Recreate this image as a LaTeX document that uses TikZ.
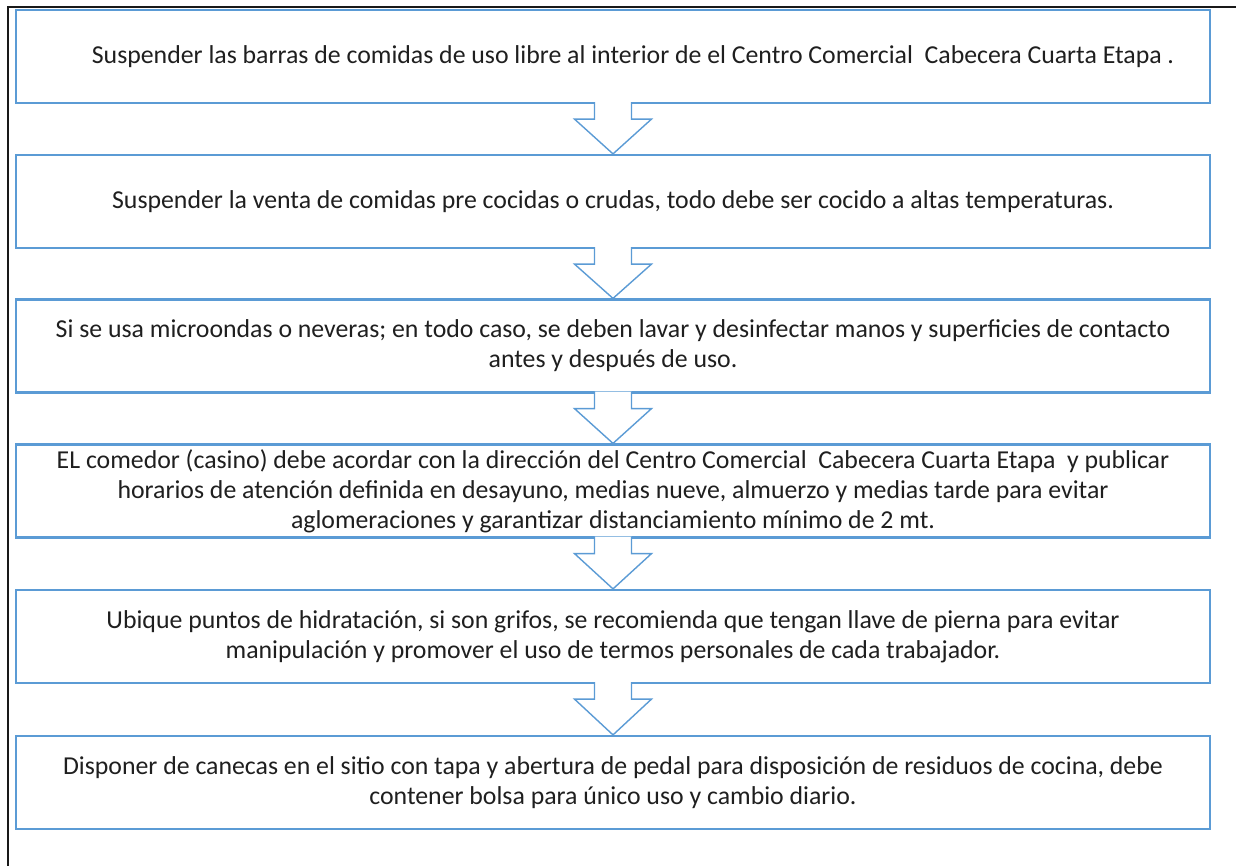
\documentclass[tikz,border=0pt]{standalone}
\usepackage{fontspec}
\setmainfont{Carlito}
\usetikzlibrary{calc,positioning}
\definecolor{color_box}{HTML}{5B9BD5}
\definecolor{color_text}{HTML}{1F1F1F}

\begin{document}
\begin{tikzpicture}[x=0.5pt,y=-0.5pt,
		stepbox/.style={draw=color_box,line width=1.1pt,fill=white,
			minimum width=597pt,minimum height=46.5pt,inner sep=0pt,
			align=center,text=color_text,font=\fontsize{12.9}{15}\selectfont}]
				\useasboundingbox (0, 0) rectangle (1238, 866);
				\fill[white] (-2, -2) rectangle (1240, 868);
				% Frame
				\draw[line width=1.1pt,black!90] (8, 866) -- (8, 7) -- (1236, 7);
				
				% Steps
				\node[stepbox] (b1) at (613, 56.5) {\hspace*{20pt}Suspender las barras de comidas de uso libre al interior de el Centro Comercial\ \ Cabecera Cuarta Etapa .};
				\node[stepbox] (b2) at (613, 201.5) {Suspender la venta de comidas pre cocidas o crudas, todo debe ser cocido a altas temperaturas.};
				\node[stepbox] (b3) at (613, 346) {Si se usa microondas o neveras; en todo caso, se deben lavar y desinfectar manos y superficies de contacto\\ antes y después de uso.};
				\node[stepbox] (b4) at (613, 491) {EL comedor (casino) debe acordar con la dirección del Centro Comercial\ \ Cabecera Cuarta Etapa\ \ y publicar\\ horarios de atención definida en desayuno, medias nueve, almuerzo y medias tarde para evitar\\ aglomeraciones y garantizar distanciamiento mínimo de 2 mt.};
				\node[stepbox] (b5) at (613, 636.5) {Ubique puntos de hidratación, si son grifos, se recomienda que tengan llave de pierna para evitar\\ manipulación y promover el uso de termos personales de cada trabajador.};
				\node[stepbox] (b6) at (613, 782.5) {Disponer de canecas en el sitio con tapa y abertura de pedal para disposición de residuos de cocina, debe\\ contener bolsa para único uso y cambio diario.};
				
				% Arrows
				\foreach \from/\to in {b1/b2, b2/b3, b3/b4, b4/b5, b5/b6}
					\path[draw=color_box,line width=0.7pt,fill=white]
						($(\from.south)+(-18.5,-2)$) -- ++(0,17)
						-- ++(-20,0) -- (\to.north)
						-- ($(\from.south)+(38.5,15)$)
						-- ++(-20,0) -- ++(0,-17)
						;
			\end{tikzpicture}
\end{document}
